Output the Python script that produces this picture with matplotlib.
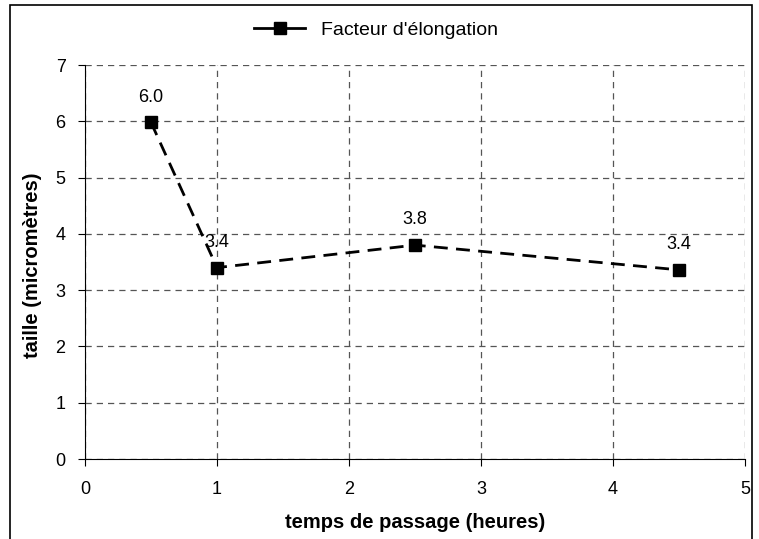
import matplotlib
matplotlib.use("Agg")
from matplotlib import pyplot as plt
from matplotlib.patches import Rectangle
from matplotlib.lines import Line2D

plt.rcParams['font.family'] = ['Liberation Sans', 'DejaVu Sans']

temps = [0.5, 1, 2.5, 4.5]
taille = [5.98, 3.40, 3.80, 3.36]
etiquettes = ['6.0', '3.4', '3.8', '3.4']

fig = plt.figure(figsize=(7.59, 5.39), dpi=100)
ax = fig.add_axes([85/759, 1 - 459/539, 660/759, 394/539])

ax.plot(temps, taille, color='black', linestyle=(0, (5, 3)), linewidth=2,
        marker='s', markersize=8.5)

# valeurs au-dessus des points
for x, y, t in zip(temps, taille, etiquettes):
    ax.annotate(t, (x, y), xytext=(0, 12), textcoords='offset points',
                ha='center', va='bottom', fontsize=13)

ax.set_xlim(0, 5)
ax.set_ylim(0, 7)
ax.set_xticks(range(0, 6))
ax.set_yticks(range(0, 8))
ax.grid(True, color='#555555', linestyle=(0, (5, 4)), linewidth=0.9)
ax.spines['top'].set_visible(False)
ax.spines['right'].set_visible(False)
ax.tick_params(labelsize=13, length=5, direction='out')
ax.tick_params(axis='x', pad=11)
ax.tick_params(axis='y', pad=9)
ax.set_xlabel('temps de passage (heures)', fontsize=14.5, fontweight='bold')
ax.set_ylabel('taille (micromètres)', fontsize=14.5, fontweight='bold')
ax.xaxis.set_label_coords(0.5, 1 - (513 - 65) / 394)
ax.yaxis.set_label_coords((42 - 85) / 660, 1 - (265 - 65) / 394)

# ligne pleine dans la légende, comme dans l'original
poignee = Line2D([], [], color='black', linewidth=2, marker='s', markersize=8.5)
ax.legend([poignee], ["Facteur d'élongation"], loc='center',
          bbox_to_anchor=(376/759, 1 - 30/539),
          bbox_transform=fig.transFigure, frameon=False, fontsize=14,
          handlelength=2.6)

fig.patches.append(Rectangle((10/759, -0.01), 742/759, 1 - 5/539 + 0.01,
                             transform=fig.transFigure, fill=False,
                             edgecolor='black', linewidth=1.2))

fig.savefig('out.png', dpi=100)
